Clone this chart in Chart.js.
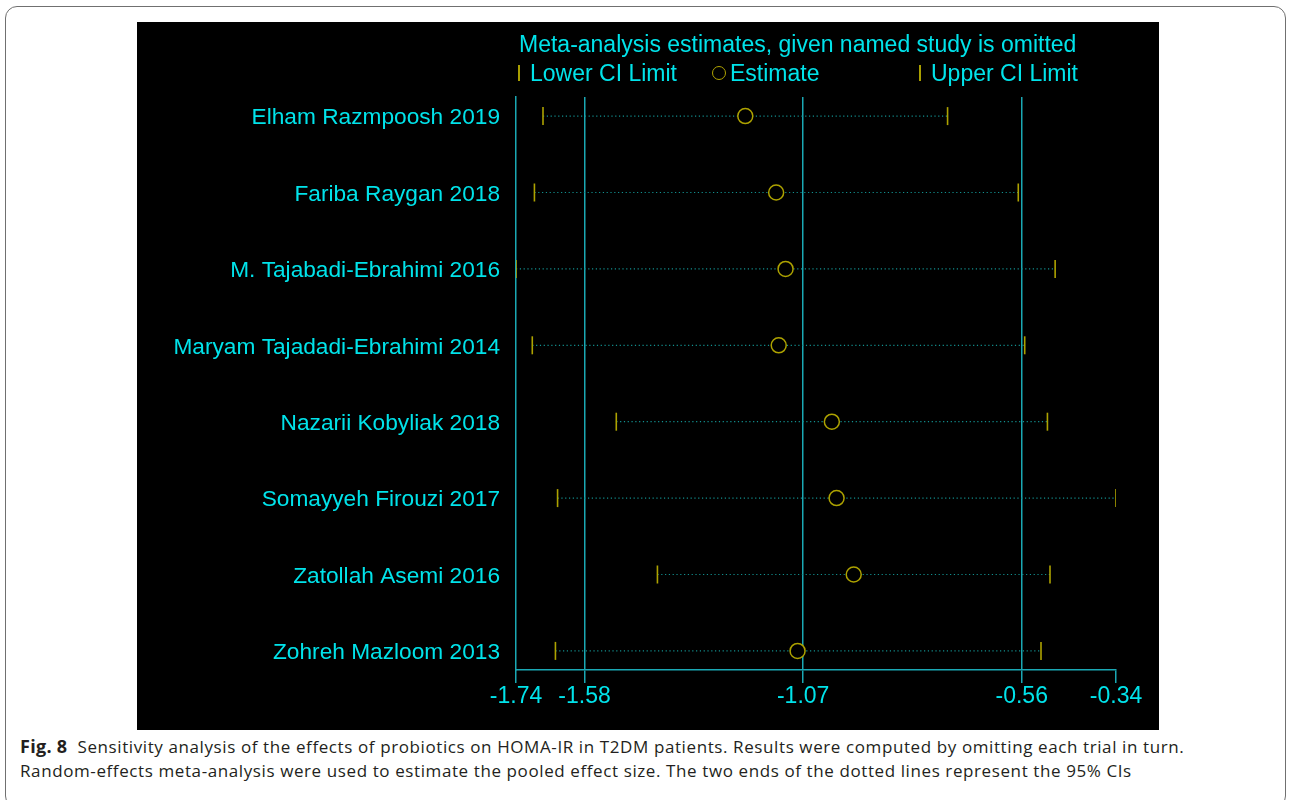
<!DOCTYPE html>
<html>
<head>
<meta charset="utf-8">
<script src="https://cdn.jsdelivr.net/npm/chart.js@4/dist/chart.umd.min.js"></script>
<style>
  body { margin: 0; background: #fff; width: 1290px; height: 800px; overflow: hidden; position: relative; }
  .frame { position: absolute; left: 5px; top: 6px; width: 1279px; height: 800px; border: 1.5px solid #707070; border-radius: 12px; }
  .plot { position: absolute; left: 137px; top: 22px; width: 1022px; height: 708px; background: #000; }
  .plot canvas { position: absolute; left: 0; top: 0; }
  .ttl, .leg { position: absolute; font-family: 'Liberation Sans', Arial, sans-serif; font-size: 23px; line-height: 26px; color: #00e3ea; white-space: nowrap; }
  .bar { position: absolute; width: 2px; height: 16px; background: #a89e00; }
  .ring { position: absolute; width: 12px; height: 12px; border: 1.5px solid #b0a400; border-radius: 50%; }
  .caption { position: absolute; left: 20px; top: 734px; font-family: 'Open Sans', 'Noto Sans', sans-serif; font-size: 17px; letter-spacing: 0.6px; line-height: 24px; color: #231f20; white-space: nowrap; }
  .caption b { font-weight: 700; font-size: 18px; letter-spacing: 0.3px; }
</style>
</head>
<body>
<div class="frame"></div>
<div class="plot">
  <canvas id="forest" width="1022" height="708"></canvas>
  <div class="ttl" style="left:382px; top:9px;"></div>
  <div class="bar" style="left:381px; top:43px;"></div>
  <div class="leg" id="legLower" style="left:393px; top:38px;"></div>
  <div class="ring" style="left:575px; top:44px;"></div>
  <div class="leg" id="legEst" style="left:593px; top:38px;"></div>
  <div class="bar" style="left:782px; top:43px;"></div>
  <div class="leg" id="legUpper" style="left:794px; top:38px;"></div>
</div>
<div class="caption">
  <b>Fig. 8</b>&nbsp; Sensitivity analysis of the effects of probiotics on HOMA-IR in T2DM patients. Results were computed by omitting each trial in turn.<br>
  Random-effects meta-analysis were used to estimate the pooled effect size. The two ends of the dotted lines represent the 95% CIs
</div>
<script>
// Study omitted in each row, top to bottom
const studies = [
    'Elham Razmpoosh 2019',
    'Fariba Raygan 2018',
    'M. Tajabadi-Ebrahimi 2016',
    'Maryam Tajadadi-Ebrahimi 2014',
    'Nazarii Kobyliak 2018',
    'Somayyeh Firouzi 2017',
    'Zatollah Asemi 2016',
    'Zohreh Mazloom 2013'
];

// Pooled estimate and 95% CI with that study left out
const estimate = [-1.205, -1.133, -1.111, -1.127, -1.003, -0.992, -0.952, -1.083];
const lowerCI = [-1.677, -1.697, -1.740, -1.702, -1.506, -1.643, -1.410, -1.648];
const upperCI = [-0.733, -0.568, -0.482, -0.553, -0.500, -0.340, -0.494, -0.515];

// Axis ticks along the bottom
const xTicks = [-1.74, -1.58, -1.07, -0.56, -0.34];

const legendLabels = ['Lower CI Limit', 'Estimate', 'Upper CI Limit'];
const chartTitle = 'Meta-analysis estimates, given named study is omitted';

const CYAN = '#00e3ea';
const TEAL = '#1aa8b4';
const DOTS = '#12908f';
const YELLOW = '#ada200';

document.querySelector('.ttl').textContent = chartTitle;
document.getElementById('legLower').textContent = legendLabels[0];
document.getElementById('legEst').textContent = legendLabels[1];
document.getElementById('legUpper').textContent = legendLabels[2];

Chart.defaults.font.family = "'Liberation Sans', Arial, sans-serif";
Chart.defaults.font.size = 23;
Chart.defaults.color = CYAN;

// dotted CI spans, one dataset per study
const spanSets = studies.map((name, i) => ({
    type: 'line',
    label: name,
    data: [{ x: lowerCI[i], y: i }, { x: upperCI[i], y: i }],
    borderColor: DOTS,
    borderWidth: 1.2,
    borderDash: [1.2, 2.6],
    pointRadius: 0,
    order: 3
}));

const pts = arr => arr.map((v, i) => ({ x: v, y: i }));

new Chart(document.getElementById('forest'), {
    type: 'scatter',
    data: {
        datasets: [
            ...spanSets,
            {
                label: legendLabels[0],
                data: pts(lowerCI),
                pointStyle: 'line',
                rotation: 90,
                radius: 9,
                borderColor: YELLOW,
                borderWidth: 1.6,
                order: 1
            },
            {
                label: legendLabels[1],
                data: pts(estimate),
                pointStyle: 'circle',
                radius: 7.5,
                borderColor: YELLOW,
                backgroundColor: '#000',
                borderWidth: 1.5,
                order: 1
            },
            {
                label: legendLabels[2],
                data: pts(upperCI),
                pointStyle: 'line',
                rotation: 90,
                radius: 9,
                borderColor: YELLOW,
                borderWidth: 1.6,
                order: 1
            }
        ]
    },
    options: {
        responsive: false,
        animation: false,
        events: [],
        layout: { padding: { top: 75, right: 43, left: 0, bottom: 0 } },
        plugins: {
            legend: { display: false },
            title: { display: false },
            tooltip: { enabled: false }
        },
        scales: {
            x: {
                type: 'linear',
                min: -1.74,
                max: -0.34,
                afterBuildTicks: s => { s.ticks = xTicks.map(v => ({ value: v })); },
                afterFit: s => { s.height = 60; },
                border: { color: TEAL, width: 1.5 },
                grid: {
                    color: c => (c.tick && (c.tick.value === xTicks[0] || c.tick.value === xTicks[xTicks.length - 1])) ? 'rgba(0,0,0,0)' : TEAL,
                    lineWidth: 1.5,
                    tickColor: TEAL,
                    tickLength: 13,
                    drawTicks: true
                },
                ticks: {
                    color: CYAN,
                    padding: 0,
                    maxRotation: 0,
                    callback: v => v.toFixed(2)
                }
            },
            y: {
                type: 'linear',
                reverse: true,
                min: -0.25,
                max: 7.25,
                afterBuildTicks: s => { s.ticks = studies.map((_, i) => ({ value: i })); },
                afterFit: s => { s.width = 379; },
                border: { color: TEAL, width: 1.5 },
                grid: { display: false, drawTicks: false },
                ticks: {
                    color: CYAN,
                    padding: 16,
                    labelOffset: 2,
                    font: { size: 22.7 },
                    callback: v => studies[v]
                }
            }
        }
    }
});
</script>
</body>
</html>
